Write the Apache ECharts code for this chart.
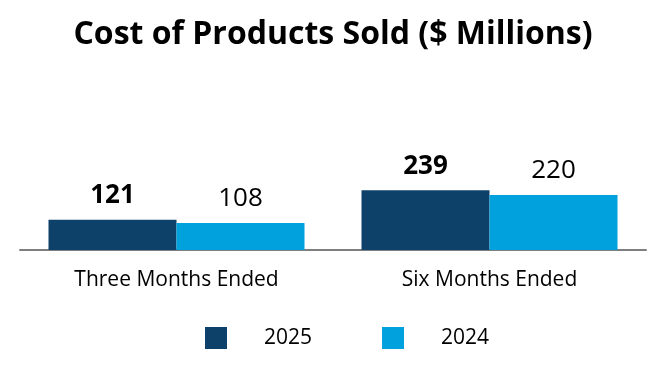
<!DOCTYPE html>
<html>
<head>
<meta charset="utf-8">
<script src="https://cdn.jsdelivr.net/npm/echarts@6/dist/echarts.min.js"></script>
<style>html,body{margin:0;padding:0;background:#fff}#c{width:666px;height:380px}</style>
</head>
<body>
<div id="c"></div>
<script>
var categories = ['Three Months Ended', 'Six Months Ended'];
var seriesNames = ['2025', '2024'];
var values2025 = [121, 239];
var values2024 = [108, 220];

var chart = echarts.init(document.getElementById('c'), null, {renderer: 'canvas'});
var font = '"Open Sans", "Noto Sans", sans-serif';
chart.setOption({
  animation: false,
  textStyle: {fontFamily: font},
  title: {
    text: 'Cost of Products Sold ($ Millions)',
    left: 'center', top: 14,
    textStyle: {fontFamily: font, fontSize: 32, fontWeight: 'bold', color: '#000'}
  },
  legend: {
    data: seriesNames,
    bottom: 26, left: 200,
    itemWidth: 22, itemHeight: 22, itemGap: 70,
    icon: 'rect',
    textStyle: {fontFamily: font, fontSize: 21, color: '#000', padding: [0, 0, 0, 32]}
  },
  grid: {left: 20, right: 20, top: 150, bottom: 130, containLabel: false},
  xAxis: {
    type: 'category',
    data: categories,
    axisLine: {lineStyle: {color: '#7f7f7f', width: 2}},
    axisTick: {show: false},
    axisLabel: {fontFamily: font, fontSize: 21, color: '#000', margin: 20}
  },
  yAxis: {
    type: 'value', min: 0, max: 400,
    show: false, splitLine: {show: false}
  },
  series: [
    {
      name: seriesNames[0], type: 'bar', data: values2025,
      barWidth: 128, barGap: '0%',
      itemStyle: {color: '#0e416a'},
      label: {show: true, position: 'top', distance: 11, fontFamily: font, fontSize: 26, fontWeight: 'bold', color: '#000'}
    },
    {
      name: seriesNames[1], type: 'bar', data: values2024,
      barWidth: 128,
      itemStyle: {color: '#00a1dc'},
      label: {show: true, position: 'top', distance: 11, fontFamily: font, fontSize: 26, color: '#000'}
    }
  ]
});
</script>
</body>
</html>
